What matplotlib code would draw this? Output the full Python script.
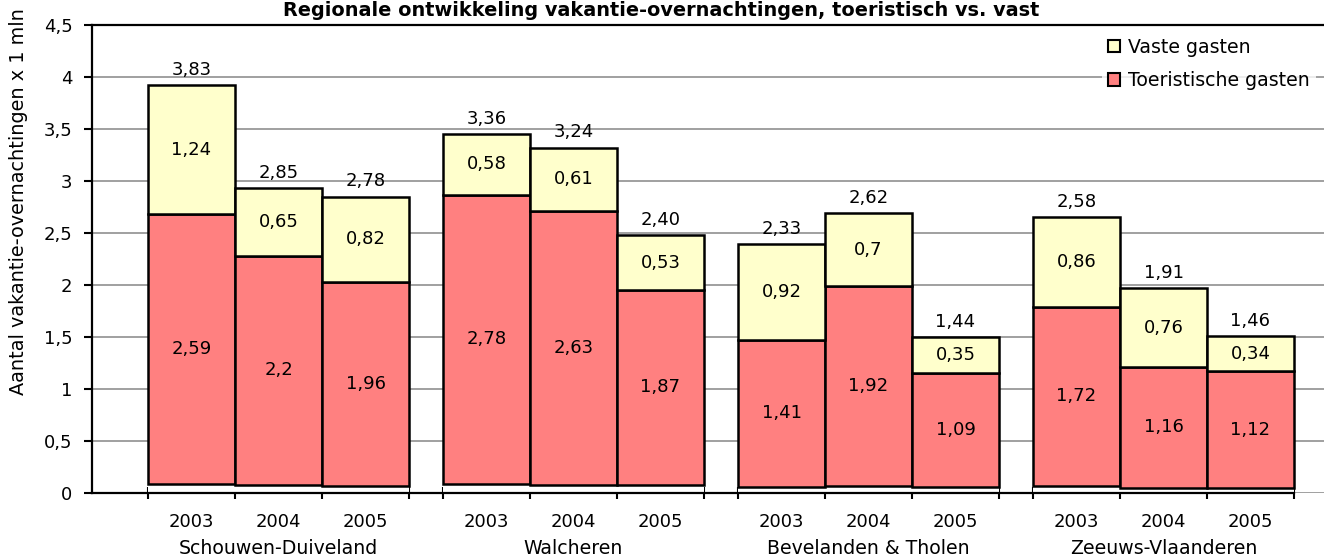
import matplotlib
matplotlib.use('Agg')
import matplotlib.pyplot as plt
import matplotlib.transforms as mtransforms
from matplotlib.patches import Patch
import numpy as np

plt.rcParams['font.family'] = ['DejaVu Sans']

title = 'Regionale ontwikkeling vakantie-overnachtingen, toeristisch vs. vast'
ylabel = 'Aantal vakantie-overnachtingen x 1 mln'
regions = ['Schouwen-Duiveland', 'Walcheren', 'Bevelanden & Tholen', 'Zeeuws-Vlaanderen']
years = ['2003', '2004', '2005']
series_names = ['Vaste gasten', 'Toeristische gasten']

# hidden bottom series (small)
overig = [0.09, 0.08, 0.07, 0.09, 0.08, 0.08, 0.06, 0.07, 0.06, 0.07, 0.05, 0.05]
toeristisch = [2.59, 2.2, 1.96, 2.78, 2.63, 1.87, 1.41, 1.92, 1.09, 1.72, 1.16, 1.12]
vast = [1.24, 0.65, 0.82, 0.58, 0.61, 0.53, 0.92, 0.7, 0.35, 0.86, 0.76, 0.34]
totaal = [3.83, 2.85, 2.78, 3.36, 3.24, 2.40, 2.33, 2.62, 1.44, 2.58, 1.91, 1.46]

RED = '#FF8080'
YEL = '#FFFFCC'
FS = 13
FT = 13.6

W, H = 1324, 560
fig = plt.figure(figsize=(W / 100, H / 100), dpi=100)
ax = fig.add_axes([92 / W, 67 / H, (W - 92) / W, 468 / H])

gap = 34 / 87
nb = len(years)
lefts = []
for g in range(len(regions)):
    for j in range(nb):
        lefts.append(g * (nb + gap) + j)
lefts = np.array(lefts, dtype=float)
centers = lefts + 0.5

ov = np.array(overig)
tr = np.array(toeristisch)
vs = np.array(vast)

ax.bar(lefts, ov, width=1, align='edge', color='white', edgecolor='none', zorder=2)
ax.bar(lefts, tr, bottom=ov, width=1, align='edge', color=RED, edgecolor='black', linewidth=1.8, zorder=3)
ax.bar(lefts, vs, bottom=ov + tr, width=1, align='edge', color=YEL, edgecolor='black', linewidth=1.8, zorder=3)

def fmt(v):
    return ('%g' % v).replace('.', ',')

for i in range(len(lefts)):
    ax.text(centers[i], ov[i] + tr[i] / 2, fmt(tr[i]), ha='center', va='center', fontsize=FS, zorder=5)
    ax.text(centers[i], ov[i] + tr[i] + vs[i] / 2, fmt(vs[i]), ha='center', va='center', fontsize=FS, zorder=5)
    ax.annotate(('%.2f' % totaal[i]).replace('.', ','), xy=(centers[i], ov[i] + tr[i] + vs[i]),
                xytext=(0, 4.5), textcoords='offset points', ha='center', va='bottom', fontsize=FS, zorder=5)

xmin = -(148 - 92) / 87
xmax = (W - 148) / 87
ax.set_xlim(xmin, xmax)
ax.set_ylim(0, 4.5)

yt = np.arange(0, 4.51, 0.5)
ax.set_yticks(yt)
ax.set_yticklabels([fmt(v) for v in yt], fontsize=FS)
ax.tick_params(axis='y', direction='out', length=6, width=1.5, pad=8)

edges = []
for g in range(len(regions)):
    for j in range(nb + 1):
        edges.append(g * (nb + gap) + j)
ax.set_xticks(edges)
ax.set_xticklabels([''] * len(edges))
ax.tick_params(axis='x', which='major', direction='inout', length=8, width=1.5)
ax.set_xticks(centers, minor=True)
ax.set_xticklabels(years * len(regions), minor=True, fontsize=FS)
ax.tick_params(axis='x', which='minor', length=0, pad=14.5)

trans = mtransforms.blended_transform_factory(ax.transData, ax.transAxes)
for g, name in enumerate(regions):
    ax.text(g * (nb + gap) + nb / 2, (493 - 548) / 468, name, transform=trans,
            ha='center', va='center', fontsize=FT)

ax.yaxis.grid(True, color='#999999', linewidth=1.3)
ax.set_axisbelow(True)
for s in ['left', 'top', 'bottom']:
    ax.spines[s].set_color('black')
    ax.spines[s].set_linewidth(1.6)
ax.spines['right'].set_visible(False)
ax.spines['bottom'].set_bounds(xmin, lefts[-1] + 1)

fig.text(661 / W, 1 - 16 / H, title, ha='center', va='baseline', fontsize=13.9, fontweight='bold')
fig.text(19 / W, 1 - 202 / H, ylabel, rotation=90, ha='center', va='center', fontsize=13.9)

handles = [Patch(facecolor=YEL, edgecolor='black', linewidth=1.5),
           Patch(facecolor=RED, edgecolor='black', linewidth=1.5)]
leg = ax.legend(handles, series_names, loc='upper left', bbox_to_anchor=(1102 / W, 1 - 32 / H),
                bbox_transform=fig.transFigure, frameon=True, fontsize=FT, handlelength=0.65,
                handleheight=0.65, handletextpad=0.45, labelspacing=0.75, borderpad=0.3,
                borderaxespad=0, fancybox=False)
leg.get_frame().set_facecolor('white')
leg.get_frame().set_edgecolor('none')
leg.set_zorder(10)

fig.savefig('out.png', dpi=100)
